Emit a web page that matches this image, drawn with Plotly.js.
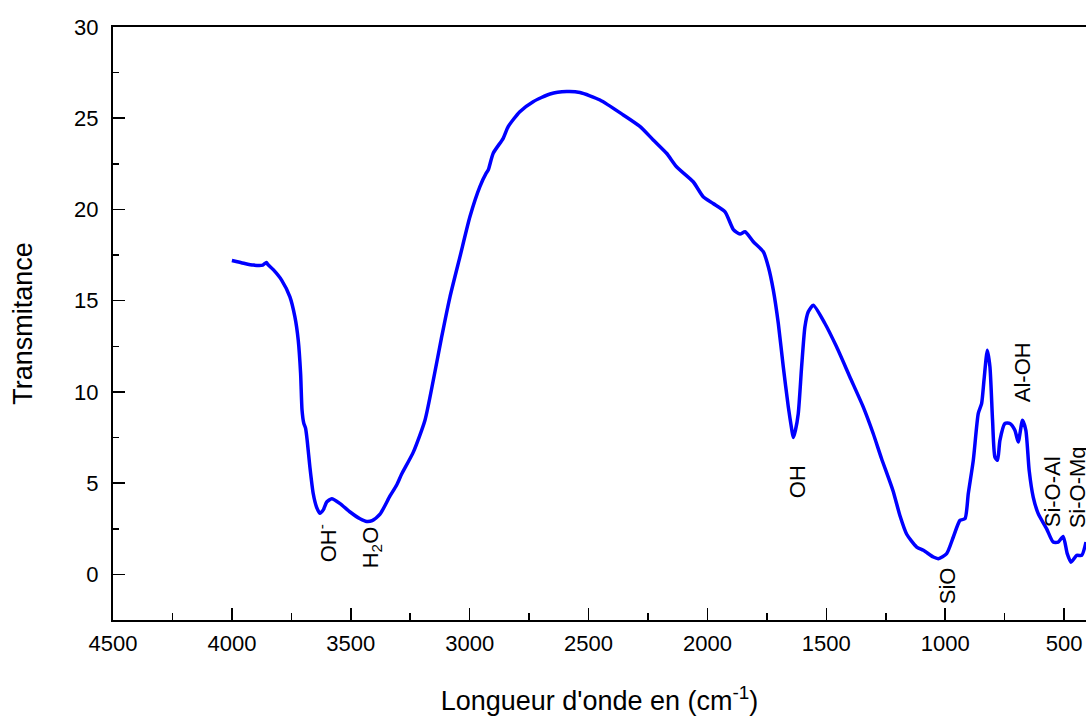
<!DOCTYPE html>
<html>
<head>
<meta charset="utf-8">
<script src="https://cdn.plot.ly/plotly-3.0.1.min.js"></script>
<style>html,body{margin:0;padding:0;background:#fff;}#chart{width:1086px;height:720px;}</style>
</head>
<body>
<div id="chart"></div>
<script>
// Wavenumber (cm-1) and transmittance
const wavenumber = [
  4000, 3950, 3910, 3870, 3855, 3850, 3826, 3791, 3756, 3735, 3721, 3711, 3705, 3698, 3690, 3683,
  3672, 3658, 3644, 3630, 3615, 3601, 3580, 3545, 3503, 3461, 3433, 3410, 3377, 3335, 3307, 3286,
  3237, 3188, 3153, 3118, 3083, 3041, 2999, 2957, 2930, 2922, 2901, 2859, 2838, 2789, 2733, 2662,
  2592, 2536, 2452, 2354, 2283, 2228, 2172, 2130, 2060, 2018, 1976, 1926, 1891, 1863, 1842, 1807,
  1765, 1744, 1723, 1702, 1681, 1660, 1645, 1639, 1630, 1618, 1604, 1590, 1576, 1555, 1506, 1457,
  1401, 1345, 1303, 1268, 1220, 1190, 1162, 1120, 1092, 1050, 1029, 994, 966, 938, 917, 903,
  882, 861, 847, 837, 823, 812, 801, 791, 780, 770, 749, 728, 707, 693, 675, 661,
  647, 630, 609, 574, 546, 525, 504, 487, 471, 447, 426, 408
];
const transmittance = [
  17.2, 17.05, 16.95, 16.95, 17.1, 17.0, 16.7, 16.13, 15.21, 14.11, 12.84, 11.0, 9.0, 8.3, 8.0, 7.3,
  5.89, 4.43, 3.69, 3.35, 3.55, 3.97, 4.15, 3.88, 3.42, 3.05, 2.9, 2.95, 3.3, 4.3, 4.9, 5.5,
  6.7, 8.45, 10.64, 13.0, 15.2, 17.4, 19.6, 21.25, 22.0, 22.16, 23.08, 23.9, 24.54, 25.36, 25.91, 26.33,
  26.46, 26.41, 26.0, 25.18, 24.54, 23.81, 23.08, 22.34, 21.52, 20.7, 20.33, 19.87, 18.9, 18.65, 18.78, 18.23,
  17.68, 16.86, 15.58, 13.75, 11.37, 9.18, 7.9, 7.5, 7.9, 8.82, 11.37, 13.57, 14.39, 14.75, 13.75, 12.47,
  10.82, 9.18, 7.72, 6.35, 4.6, 3.2, 2.2, 1.5, 1.32, 0.95, 0.86, 1.14, 2.05, 2.96, 3.05, 4.43,
  6.25, 8.82, 9.36, 10.64, 12.29, 11.37, 8.45, 6.43, 6.25, 7.35, 8.27, 8.27, 7.9, 7.26, 8.45, 7.9,
  5.7, 4.24, 3.33, 2.51, 1.77, 1.77, 2.08, 1.14, 0.67, 1.04, 1.04, 1.77
];
// Band labels
const bandLabels = ["OH<sup>-</sup>", "H<sub>2</sub>O", "OH", "SiO", "Al-OH", "Si-O-Al", "Si-O-Mg"];
const bandX = [3600, 3411, 1624, 993, 677, 551, 446];
const bandY = [1.70, 1.48, 5.10, -0.60, 11.08, 4.50, 4.77];

const FONT = "Liberation Sans, Arial, Helvetica, sans-serif";

const trace = {
  x: wavenumber,
  y: transmittance,
  mode: "lines",
  type: "scatter",
  line: {color: "#0000ff", width: 3.5, shape: "spline", smoothing: 0.6},
  hoverinfo: "x+y"
};

const annotations = bandLabels.map((t, i) => ({
  x: bandX[i], y: bandY[i], xref: "x", yref: "y",
  text: t, showarrow: false, textangle: -90,
  xanchor: "center", yanchor: "middle",
  font: {family: FONT, size: 22, color: "#000"}
}));

const layout = {
  width: 1086, height: 720,
  margin: {l: 113, r: 0, t: 27, b: 100, pad: 0},
  paper_bgcolor: "#fff", plot_bgcolor: "#fff",
  showlegend: false,
  font: {family: FONT, color: "#000"},
  xaxis: {
    range: [4500, 408],
    tickmode: "array",
    tickvals: [4500, 4000, 3500, 3000, 2500, 2000, 1500, 1000, 500],
    ticktext: ["4500", "4000", "3500", "3000", "2500", "2000", "1500", "1000", "500"],
    ticks: "inside", ticklen: 12, tickwidth: 1.5, tickcolor: "#000",
    minor: {dtick: 250, tick0: 0, ticks: "inside", ticklen: 7, tickwidth: 1.5, tickcolor: "#000"},
    showline: true, linecolor: "#000", linewidth: 2, mirror: true,
    showgrid: false, zeroline: false,
    tickfont: {family: FONT, size: 22, color: "#000"},
    ticklabelstandoff: 3,
    title: {text: "Longueur d'onde en (cm<sup>-1</sup>)", font: {family: FONT, size: 27, color: "#000"}, standoff: 36}
  },
  yaxis: {
    range: [-2.5, 30],
    tickmode: "array",
    tickvals: [0, 5, 10, 15, 20, 25, 30],
    ticktext: ["0", "5", "10", "15", "20", "25", "30"],
    ticks: "inside", ticklen: 12, tickwidth: 1.5, tickcolor: "#000",
    minor: {dtick: 2.5, tick0: 0, ticks: "inside", ticklen: 6, tickwidth: 1.5, tickcolor: "#000"},
    showline: true, linecolor: "#000", linewidth: 2, mirror: false,
    showgrid: false, zeroline: false,
    tickfont: {family: FONT, size: 22, color: "#000"},
    ticklabelstandoff: 8,
    title: {text: "Transmitance", font: {family: FONT, size: 27, color: "#000"}, standoff: 34}
  },
  annotations: annotations
};

Plotly.newPlot("chart", [trace], layout, {displayModeBar: false, staticPlot: true});
</script>
</body>
</html>
